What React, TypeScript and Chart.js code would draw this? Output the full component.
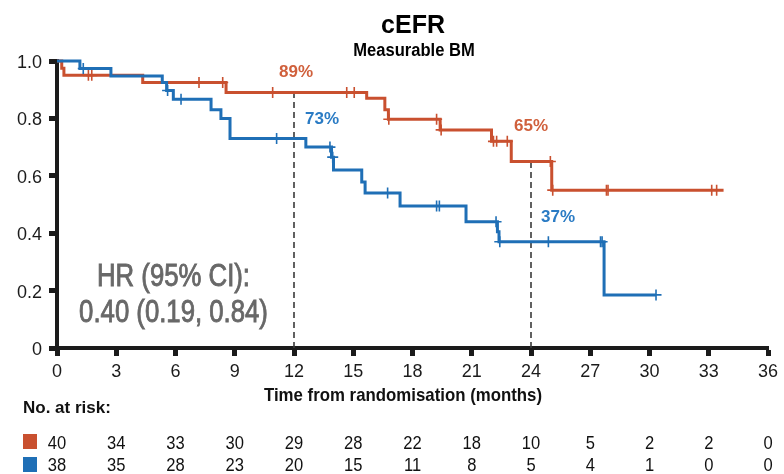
import { useEffect, useRef } from 'react';
import { Chart, registerables } from 'chart.js';

Chart.register(...registerables);

// Kaplan–Meier step data: event times (months) and survival after each step
const RED_TIMES = [0, 0.24, 0.35, 4.34, 8.56, 15.68, 16.6, 16.78, 19.4, 22.0, 23.0, 25.05];
const RED_SURV = [1.0, 0.975, 0.95, 0.925, 0.89, 0.87, 0.83, 0.797, 0.76, 0.72, 0.65, 0.55];
const RED_END = 33.75;
const RED_CENSOR = [1.59, 1.76, 7.19, 8.39, 10.92, 14.67, 15.05, 16.8, 19.22, 19.45, 22.1, 22.26, 22.8, 24.98, 25.1, 27.82, 27.9, 33.15, 33.4];

const BLUE_TIMES = [0, 1.16, 2.73, 5.33, 5.55, 5.89, 7.8, 8.3, 8.76, 12.6, 13.9, 14.0, 15.43, 15.6, 17.37, 20.71, 22.3, 22.38, 27.7];
const BLUE_SURV = [1.0, 0.974, 0.948, 0.925, 0.897, 0.867, 0.83, 0.8, 0.73, 0.7, 0.665, 0.62, 0.578, 0.54, 0.495, 0.44, 0.405, 0.37, 0.185];
const BLUE_END = 30.33;
const BLUE_CENSOR = [1.33, 5.6, 6.28, 11.12, 13.82, 13.96, 16.74, 19.22, 19.36, 22.23, 22.42, 24.88, 27.52, 27.6, 30.33];

// Landmark times marked with dashed lines and percentage labels
const LANDMARKS = [12, 24];

const X_TICKS = [0, 3, 6, 9, 12, 15, 18, 21, 24, 27, 30, 33, 36];
const X_TICK_LABELS = ['0', '3', '6', '9', '12', '15', '18', '21', '24', '27', '30', '33', '36'];
const Y_TICKS = [0, 0.2, 0.4, 0.6, 0.8, 1.0];
const Y_TICK_LABELS = ['0', '0.2', '0.4', '0.6', '0.8', '1.0'];

const RISK_RED = [40, 34, 33, 30, 29, 28, 22, 18, 10, 5, 2, 2, 0];
const RISK_BLUE = [38, 35, 28, 23, 20, 15, 11, 8, 5, 4, 1, 0, 0];

const TITLE = 'cEFR';
const SUBTITLE = 'Measurable BM';
const X_TITLE = 'Time from randomisation (months)';
const RISK_TITLE = 'No. at risk:';
const HR_LINES = ['HR (95% CI):', '0.40 (0.19, 0.84)'];

const RED = '#C9502F';
const BLUE = '#1F6FB6';
const RED_LABEL = '#D0603C';
const BLUE_LABEL = '#2A7BC4';
const AXIS = '#1b1b1b';

const SANS = "'Liberation Sans', Arial, sans-serif";

function survAt(times: number[], surv: number[], t: number): number {
  let s = surv[0];
  for (let i = 0; i < times.length; i++) {
    if (times[i] <= t) s = surv[i];
  }
  return s;
}

function stepPoints(times: number[], surv: number[], end: number) {
  const pts = times.map((t, i) => ({ x: t, y: surv[i] }));
  pts.push({ x: end, y: surv[surv.length - 1] });
  return pts;
}

function censorPoints(times: number[], surv: number[], cens: number[]) {
  return cens.map((c) => ({ x: c, y: survAt(times, surv, c) }));
}

// Draws text squeezed horizontally to mimic a condensed typeface
function condensed(ctx: CanvasRenderingContext2D, text: string, x: number, y: number, sx: number, stroke = 0) {
  ctx.save();
  ctx.translate(x, y);
  ctx.scale(sx, 1);
  ctx.fillText(text, 0, 0);
  if (stroke > 0) {
    ctx.lineWidth = stroke;
    ctx.strokeStyle = ctx.fillStyle;
    ctx.strokeText(text, 0, 0);
  }
  ctx.restore();
}

const overlayPlugin = {
  id: 'kmOverlay',
  afterDatasetsDraw(chart: any) {
    const { ctx, scales } = chart;
    const xs = scales.x;
    const ys = scales.y;
    ctx.save();
    ctx.textAlign = 'center';
    ctx.textBaseline = 'alphabetic';

    // Title and subtitle
    ctx.fillStyle = '#000';
    ctx.font = `bold 25px ${SANS}`;
    ctx.fillText(TITLE, 413, 33);
    ctx.font = `bold 18px ${SANS}`;
    condensed(ctx, SUBTITLE, 414, 56, 0.92);

    // Tick labels
    ctx.fillStyle = AXIS;
    ctx.font = `18px ${SANS}`;
    X_TICKS.forEach((v, i) => {
      ctx.fillText(X_TICK_LABELS[i], xs.getPixelForValue(v), 376.5);
    });
    ctx.textAlign = 'right';
    Y_TICKS.forEach((v, i) => {
      ctx.fillText(Y_TICK_LABELS[i], 42, ys.getPixelForValue(v) + 7);
    });
    ctx.textAlign = 'center';

    // Landmark percentages
    const [t1, t2] = LANDMARKS;
    const pct = (v: number) => `${Math.round(v * 100)}%`;
    const r1 = survAt(RED_TIMES, RED_SURV, t1);
    const r2 = survAt(RED_TIMES, RED_SURV, t2);
    const b1 = survAt(BLUE_TIMES, BLUE_SURV, t1);
    const b2 = survAt(BLUE_TIMES, BLUE_SURV, t2);
    ctx.font = `bold 17px ${SANS}`;
    ctx.textBaseline = 'middle';
    ctx.fillStyle = RED_LABEL;
    ctx.fillText(pct(r1), xs.getPixelForValue(t1) + 2, ys.getPixelForValue(r1) - 20);
    ctx.fillText(pct(r2), xs.getPixelForValue(t2), ys.getPixelForValue(r2) - 35);
    ctx.fillStyle = BLUE_LABEL;
    ctx.fillText(pct(b1), xs.getPixelForValue(t1) + 28, ys.getPixelForValue(b1) - 19);
    ctx.fillText(pct(b2), xs.getPixelForValue(t2) + 27, ys.getPixelForValue(b2) - 24);

    // Hazard ratio
    ctx.textBaseline = 'alphabetic';
    ctx.fillStyle = '#686868';
    ctx.font = `31px ${SANS}`;
    const hx = xs.getPixelForValue(5.9);
    condensed(ctx, HR_LINES[0], hx, 286, 0.83, 0.9);
    condensed(ctx, HR_LINES[1], hx, 322, 0.83, 0.9);

    // Axis title
    ctx.fillStyle = '#111';
    ctx.font = `bold 19px ${SANS}`;
    condensed(ctx, X_TITLE, 403, 401, 0.885);

    // Number at risk table
    ctx.textAlign = 'left';
    ctx.font = `bold 17px ${SANS}`;
    ctx.fillText(RISK_TITLE, 23, 413);
    ctx.fillStyle = RED;
    ctx.fillRect(23, 434, 14, 15);
    ctx.fillStyle = BLUE;
    ctx.fillRect(23, 457, 14, 15);
    ctx.textAlign = 'center';
    ctx.fillStyle = '#111';
    ctx.font = `18px ${SANS}`;
    X_TICKS.forEach((m, i) => {
      const px = xs.getPixelForValue(m);
      condensed(ctx, String(RISK_RED[i]), px, 449, 0.92);
      condensed(ctx, String(RISK_BLUE[i]), px, 471, 0.92);
    });
    ctx.restore();
  },
};

export default function App() {
  const canvasRef = useRef<HTMLCanvasElement | null>(null);

  useEffect(() => {
    const canvas = canvasRef.current;
    if (!canvas) return;

    const redLevel = (t: number) => survAt(RED_TIMES, RED_SURV, t);

    const axisGrid = {
      drawOnChartArea: false,
      drawTicks: true,
      tickLength: 8,
      tickWidth: 5,
      tickColor: AXIS,
    };

    const chart = new Chart(canvas, {
      type: 'line',
      data: {
        datasets: [
          {
            label: 'blue censored',
            data: censorPoints(BLUE_TIMES, BLUE_SURV, BLUE_CENSOR),
            showLine: false,
            pointStyle: 'cross',
            pointRadius: 5.5,
            pointBorderWidth: 1.6,
            borderColor: BLUE,
            backgroundColor: BLUE,
            clip: false,
            order: 0,
          },
          {
            label: 'blue',
            data: stepPoints(BLUE_TIMES, BLUE_SURV, BLUE_END),
            stepped: 'before',
            borderColor: BLUE,
            borderWidth: 3,
            pointRadius: 0,
            fill: false,
            clip: false,
            order: 1,
          },
          {
            label: 'red censored',
            data: censorPoints(RED_TIMES, RED_SURV, RED_CENSOR),
            showLine: false,
            pointStyle: 'cross',
            pointRadius: 5.5,
            pointBorderWidth: 1.6,
            borderColor: RED,
            backgroundColor: RED,
            clip: false,
            order: 2,
          },
          {
            label: 'red',
            data: stepPoints(RED_TIMES, RED_SURV, RED_END),
            stepped: 'before',
            borderColor: RED,
            borderWidth: 3,
            pointRadius: 0,
            fill: false,
            clip: false,
            order: 3,
          },
          ...LANDMARKS.map((t) => ({
            label: `landmark ${t}`,
            data: [
              { x: t, y: 0 },
              { x: t, y: redLevel(t) },
            ],
            borderColor: '#3a3a3a',
            borderWidth: 1.6,
            borderDash: [6, 4],
            pointRadius: 0,
            fill: false,
            order: 4,
          })),
        ],
      },
      options: {
        animation: false,
        responsive: false,
        events: [],
        layout: { padding: { left: 0, top: 61, right: 16, bottom: 96 } },
        plugins: {
          legend: { display: false },
          tooltip: { enabled: false },
          title: { display: false },
        },
        scales: {
          x: {
            type: 'linear',
            min: 0,
            max: 36,
            afterBuildTicks: (s: any) => {
              s.ticks = X_TICKS.map((v) => ({ value: v }));
            },
            afterFit: (s: any) => {
              s.height = 30;
            },
            ticks: { display: false, autoSkip: false },
            grid: axisGrid,
            border: { display: true, width: 4, color: AXIS },
          },
          y: {
            type: 'linear',
            min: 0,
            max: 1,
            afterBuildTicks: (s: any) => {
              s.ticks = Y_TICKS.map((v) => ({ value: v }));
            },
            afterFit: (s: any) => {
              s.width = 57;
            },
            ticks: { display: false, autoSkip: false },
            grid: axisGrid,
            border: { display: true, width: 4, color: AXIS },
          },
        },
      },
      plugins: [overlayPlugin],
    });

    return () => chart.destroy();
  }, []);

  return (
    <div style={{ position: 'absolute', left: 0, top: 0, width: 784, height: 474, background: '#fff' }}>
      <canvas ref={canvasRef} width={784} height={474} style={{ display: 'block' }} />
    </div>
  );
}
